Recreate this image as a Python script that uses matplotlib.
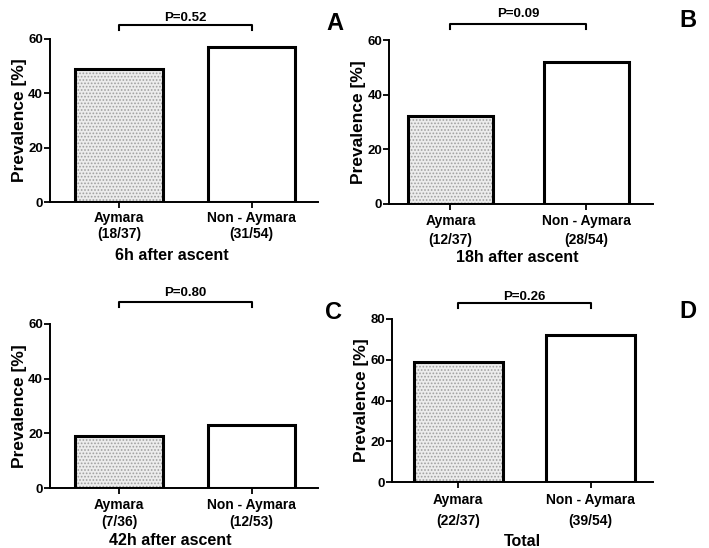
import matplotlib
matplotlib.use("Agg")
import matplotlib.pyplot as plt

plt.rcParams['font.family'] = ['Liberation Sans', 'DejaVu Sans']
plt.rcParams['font.weight'] = 'bold'
plt.rcParams['hatch.linewidth'] = 0.8

# data
groups = ['Aymara', 'Non - Aymara']
counts_a = ['(18/37)', '(31/54)']
counts_b = ['(12/37)', '(28/54)']
counts_c = ['(7/36)', '(12/53)']
counts_d = ['(22/37)', '(39/54)']
prev_a = [49, 57]
prev_b = [32, 52]
prev_c = [19, 23]
prev_d = [59, 72]
pvals = ['P=0.52', 'P=0.09', 'P=0.80', 'P=0.26']
titles = ['6h after ascent', '18h after ascent', '42h after ascent', 'Total']
letters = ['A', 'B', 'C', 'D']
ymaxes = [60, 60, 60, 80]

# layout per panel
layout = [
    dict(rect=[0.0705, 0.631, 0.378, 0.298], xlim=(-0.52, 1.50), w=0.66, br=1.085, pt=1.125,
         let=(0.473, 0.958), xl=0.455, ls=1.2, xly=-0.325, pad=2.5),
    dict(rect=[0.549, 0.628, 0.372, 0.299], xlim=(-0.45, 1.49), w=0.62, br=1.10, pt=1.16,
         let=(0.970, 0.962), xl=0.485, ls=1.45, xly=-0.328, pad=3),
    dict(rect=[0.0705, 0.109, 0.378, 0.300], xlim=(-0.52, 1.50), w=0.66, br=1.135, pt=1.19,
         let=(0.471, 0.429), xl=0.448, ls=1.3, xly=-0.318, pad=3),
    dict(rect=[0.553, 0.120, 0.368, 0.298], xlim=(-0.50, 1.47), w=0.67, br=1.095, pt=1.135,
         let=(0.970, 0.432), xl=0.50, ls=1.7, xly=-0.365, pad=3.5),
]

fig = plt.figure(figsize=(7.09, 5.48), dpi=100)

all_prev = [prev_a, prev_b, prev_c, prev_d]
all_counts = [counts_a, counts_b, counts_c, counts_d]

for i in range(4):
    lay = layout[i]
    ax = fig.add_axes(lay['rect'])
    x = [0, 1]
    vals = all_prev[i]
    # dotted fill for Aymara, plain white for the others
    ax.bar(x[0], vals[0], width=lay['w'], color='#ececec', edgecolor='#a0a0a0',
           hatch='.....', linewidth=0, zorder=2)
    ax.bar(x, vals, width=lay['w'], color='none', edgecolor='black', linewidth=2.2, zorder=3)

    ax.set_xlim(*lay['xlim'])
    ymax = ymaxes[i]
    ax.set_ylim(0, ymax)
    ax.set_yticks(range(0, ymax + 1, 20))
    ax.set_xticks(x)
    ax.set_xticklabels([g + '\n' + c for g, c in zip(groups, all_counts[i])],
                       linespacing=lay['ls'], fontsize=10, fontweight='bold')
    ax.tick_params(axis='y', labelsize=9.5, width=1.3, length=4, pad=1)
    ax.tick_params(axis='x', width=1.3, length=4, pad=lay['pad'])
    for lab in ax.get_yticklabels():
        lab.set_fontweight('bold')
    for s in ['top', 'right']:
        ax.spines[s].set_visible(False)
    ax.spines['left'].set_linewidth(1.4)
    ax.spines['bottom'].set_linewidth(1.4)

    ax.set_ylabel('Prevalence [%]', fontsize=12.5, fontweight='bold', labelpad=1)
    ax.text(lay['xl'], lay['xly'], titles[i], transform=ax.transAxes, ha='center',
            va='center', fontsize=11.5, fontweight='bold')

    # significance bracket
    yb = ymax * lay['br']
    tick = ymax * 0.03
    ax.plot([0, 0, 1, 1], [yb - tick, yb, yb, yb - tick], color='black', lw=1.5,
            clip_on=False, zorder=4)
    ax.text(0.5, ymax * lay['pt'], pvals[i], ha='center', va='center',
            fontsize=9.5, fontweight='bold', clip_on=False)

    fig.text(lay['let'][0], lay['let'][1], letters[i], ha='center', va='center',
             fontsize=17, fontweight='bold')

fig.savefig('out.png', dpi=100)
